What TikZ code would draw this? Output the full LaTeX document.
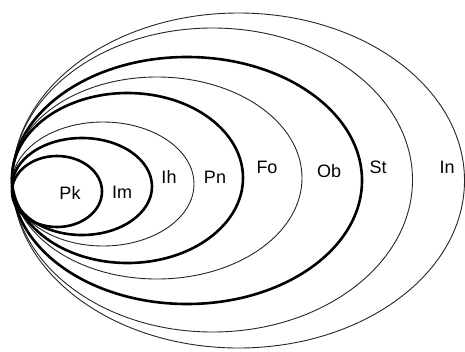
\documentclass[tikz,border=0pt]{standalone}
\usepackage{fontspec}
\setmainfont{Liberation Sans}
\begin{document}
\begin{tikzpicture}[x=1pt,y=-1pt,
  thinring/.style={draw=black!85,line width=0.9pt},
  thickring/.style={draw=black,line width=2.6pt},
  lbl/.style={font=\fontsize{18}{18}\selectfont,inner sep=0pt}]
\useasboundingbox (0,0) rectangle (465,351);
\fill[white] (0,0) rectangle (465,351);
% outer to inner
\draw[thinring] (238.5,180.5) ellipse [x radius=226, y radius=167.5];
\draw[thinring] (212.5,180) ellipse [x radius=200, y radius=152];
\draw[thickring] (187,180.5) ellipse [x radius=175, y radius=123.5];
\draw[thinring] (157,178) ellipse [x radius=145, y radius=101];
\draw[thickring] (127.5,178) ellipse [x radius=115.5, y radius=85];
\draw[thinring] (103,184) ellipse [x radius=91, y radius=62];
\draw[thickring] (82,186.5) ellipse [x radius=70, y radius=48.5];
\draw[thickring] (57,191.5) ellipse [x radius=45, y radius=35.5];
\node[lbl] (pk) at (70,193) {Pk};
\node[lbl] (im) at (122,192) {Im};
\node[lbl] (ih) at (169,177) {Ih};
\node[lbl] (pn) at (215,177) {Pn};
\node[lbl] (fo) at (267,167) {Fo};
\node[lbl] (ob) at (329,171) {Ob};
\node[lbl] (st) at (378,167) {St};
\node[lbl] (in) at (447,167) {In};
\end{tikzpicture}
\end{document}
